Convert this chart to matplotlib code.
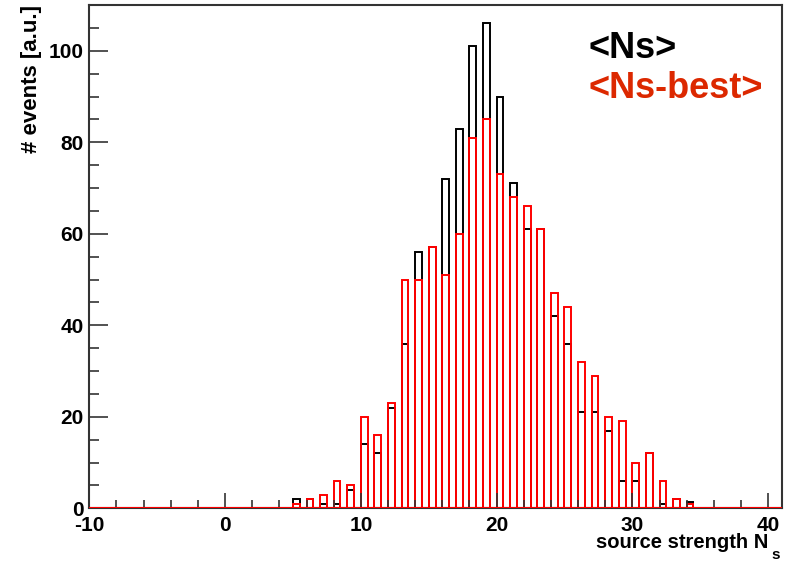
import matplotlib
matplotlib.use('Agg')
import matplotlib.pyplot as plt
from matplotlib.ticker import MultipleLocator

plt.rcParams.update({
    'font.family': ['Liberation Sans', 'DejaVu Sans'],
    'font.weight': 'bold',
    'axes.unicode_minus': False,
})

# bin lower edges (bins of width 1) and contents
bin_lo = [5, 6, 7, 8, 9, 10, 11, 12, 13, 14, 15, 16, 17, 18, 19, 20,
          21, 22, 23, 24, 25, 26, 27, 28, 29, 30, 31, 32, 33, 34]
ns = [2, 2, 1, 1, 4, 14, 12, 22, 36, 56, 57, 72, 83, 101, 106, 90,
      71, 61, 61, 42, 36, 21, 21, 17, 6, 6, 12, 1, 2, 1.4]
ns_best = [1, 2, 3, 6, 5, 20, 16, 23, 50, 50, 57, 51, 60, 81, 85, 73,
           68, 66, 61, 47, 44, 32, 29, 20, 19, 10, 12, 6, 2, 1]

fig = plt.figure(figsize=(7.9, 5.61), dpi=100)
ax = fig.add_axes([89.3 / 790, 1 - 508.3 / 561, (781.7 - 89.3) / 790, (508.3 - 5) / 561])

ax.bar(bin_lo, ns, width=0.5, align='edge', fill=False,
       edgecolor='black', linewidth=1.4)
ax.bar(bin_lo, ns_best, width=0.5, align='edge', fill=False,
       edgecolor='#ff0000', linewidth=1.4)
ax.axhline(0, color='#ff0000', linewidth=2.2, zorder=5)

ax.set_xlim(-10, 41)
ax.set_ylim(0, 110)
ax.xaxis.set_major_locator(MultipleLocator(10))
ax.xaxis.set_minor_locator(MultipleLocator(2))
ax.yaxis.set_major_locator(MultipleLocator(20))
ax.yaxis.set_minor_locator(MultipleLocator(5))
ax.tick_params(axis='both', which='both', direction='in', color='#333333',
               labelsize=15, top=False, right=False)
ax.tick_params(axis='y', which='major', length=14, width=1.2, pad=4)
ax.tick_params(axis='y', which='minor', length=7, width=1.2)
ax.tick_params(axis='x', which='major', length=11, width=1.2, pad=5.5)
ax.tick_params(axis='x', which='minor', length=5.5, width=1.2)
for s in ax.spines.values():
    s.set_color('#333333')
    s.set_linewidth(1.5)

fig.text(32 / 790, 1 - 5 / 561, '# events [a.u.]', rotation=90,
         ha='center', va='top', fontsize=16)
fig.text(768 / 790, 1 - 548 / 561, 'source strength N', ha='right',
         va='baseline', fontsize=14.5)
fig.text(776 / 790, 1 - 559 / 561, 's', ha='center', va='baseline', fontsize=11)

fig.text(588 / 790, 1 - 48 / 561, '<Ns>', color='black', fontsize=26,
         ha='left', va='center')
fig.text(588 / 790, 1 - 88 / 561, '<Ns-best>', color='#dc2800', fontsize=26,
         ha='left', va='center')

fig.savefig('out.png', dpi=100)
